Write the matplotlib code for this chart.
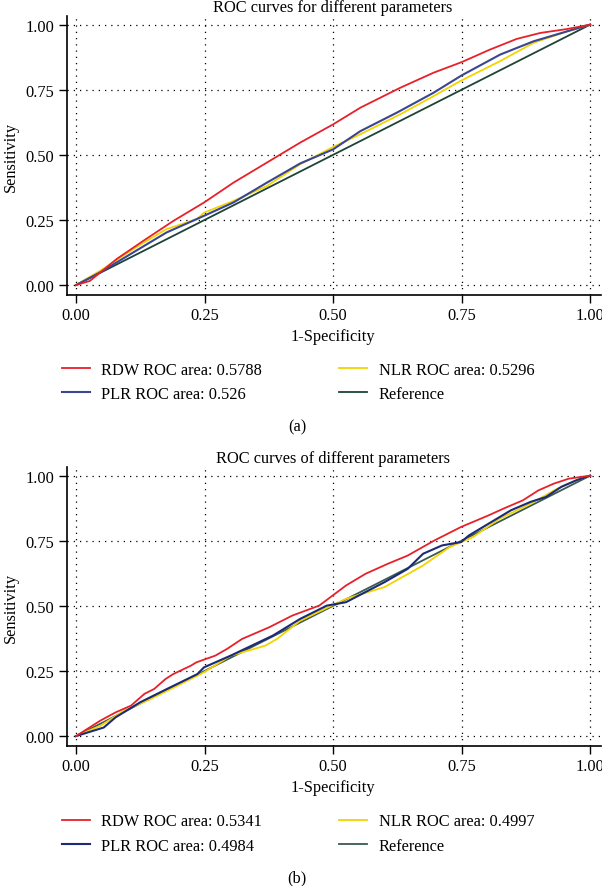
import matplotlib
matplotlib.use("Agg")
import matplotlib.pyplot as plt
from matplotlib.lines import Line2D

plt.rcParams['font.family'] = ['Liberation Serif', 'DejaVu Serif']

# ---------------- data: panel (a) ----------------
a_rdw_x = [0, 0.027, 0.079, 0.131, 0.189, 0.249, 0.306, 0.371, 0.436, 0.50, 0.553, 0.630, 0.695, 0.750, 0.805, 0.857, 0.903, 0.955, 1]
a_rdw_y = [0, 0.016, 0.100, 0.170, 0.246, 0.317, 0.393, 0.470, 0.547, 0.617, 0.681, 0.757, 0.815, 0.856, 0.904, 0.945, 0.968, 0.983, 1]
a_plr_x = [0, 0.047, 0.111, 0.176, 0.249, 0.306, 0.371, 0.436, 0.50, 0.553, 0.624, 0.695, 0.750, 0.825, 0.890, 0.955, 1]
a_plr_y = [0, 0.049, 0.125, 0.202, 0.266, 0.317, 0.393, 0.467, 0.521, 0.591, 0.662, 0.738, 0.805, 0.885, 0.936, 0.974, 1]
a_nlr_x = [0, 0.047, 0.111, 0.176, 0.235, 0.249, 0.306, 0.371, 0.436, 0.50, 0.553, 0.630, 0.695, 0.747, 0.825, 0.890, 0.955, 1]
a_nlr_y = [0, 0.055, 0.138, 0.215, 0.253, 0.278, 0.323, 0.380, 0.464, 0.530, 0.579, 0.655, 0.725, 0.783, 0.860, 0.930, 0.974, 1]
a_labels = ["RDW ROC area: 0.5788", "PLR ROC area: 0.526", "NLR ROC area: 0.5296", "Reference"]

# ---------------- data: panel (b) ----------------
b_rdw_x = [0, 0.047, 0.077, 0.107, 0.133, 0.152, 0.174, 0.189, 0.223, 0.234, 0.271, 0.294, 0.323, 0.376, 0.421, 0.473,
           0.525, 0.563, 0.607, 0.645, 0.697, 0.749, 0.802, 0.831, 0.869, 0.899, 0.929, 0.958, 1]
b_rdw_y = [0, 0.059, 0.091, 0.117, 0.162, 0.181, 0.219, 0.238, 0.270, 0.283, 0.309, 0.335, 0.373, 0.418, 0.463, 0.501,
           0.578, 0.623, 0.662, 0.693, 0.751, 0.803, 0.847, 0.873, 0.905, 0.943, 0.969, 0.988, 1]
b_plr_x = [0, 0.054, 0.077, 0.125, 0.177, 0.236, 0.249, 0.301, 0.383, 0.436, 0.488, 0.525, 0.563, 0.600, 0.645,
           0.675, 0.712, 0.749, 0.764, 0.802, 0.846, 0.884, 0.914, 0.944, 0.973, 1]
b_plr_y = [0, 0.033, 0.072, 0.130, 0.181, 0.238, 0.264, 0.309, 0.386, 0.450, 0.501, 0.514, 0.553, 0.591, 0.642,
           0.700, 0.732, 0.745, 0.770, 0.815, 0.867, 0.899, 0.918, 0.957, 0.982, 1]
b_nlr_x = [0, 0.048, 0.093, 0.145, 0.197, 0.236, 0.249, 0.301, 0.368, 0.391, 0.436, 0.525, 0.600, 0.675, 0.727,
           0.772, 0.824, 0.884, 0.936, 0.973, 1]
b_nlr_y = [0, 0.040, 0.097, 0.142, 0.193, 0.232, 0.245, 0.309, 0.347, 0.373, 0.443, 0.527, 0.572, 0.655, 0.726,
           0.764, 0.835, 0.892, 0.950, 0.982, 1]
b_labels = ["RDW ROC area: 0.5341", "PLR ROC area: 0.4984", "NLR ROC area: 0.4997", "Reference"]

ref_x = [0, 1]
ref_y = [0, 1]
ticks = [0.0, 0.25, 0.5, 0.75, 1.0]
tick_labels = ["0.00", "0.25", "0.50", "0.75", "1.00"]

C_RDW = "#e8202a"
C_PLR = "#1c2a7a"
C_NLR = "#f2d400"
C_REF = "#1d4436"

W, H = 602, 887
FS = 11.8
fig = plt.figure(figsize=(W / 100, H / 100), dpi=100)


def panel(top_px, bottom_px, title, data, labels, ref_color, plr_color, tag, leg_y, tag_y):
    left_px, right_px = 67, 601
    hgt = bottom_px - top_px
    ax = fig.add_axes([left_px / W, 1 - bottom_px / H, (right_px - left_px) / W, hgt / H])
    (rx, ry), (px, py), (nx, ny) = data
    ax.plot(ref_x, ref_y, color=ref_color, lw=1.3, zorder=3)
    ax.plot(nx, ny, color=C_NLR, lw=1.3, zorder=4)
    ax.plot(px, py, color=plr_color, lw=1.5, zorder=5)
    ax.plot(rx, ry, color=C_RDW, lw=1.3, zorder=6)
    ax.set_xlim(-0.0175, 1.021)
    ax.set_ylim(-0.038, 1.033)
    ax.set_xticks(ticks)
    ax.set_xticklabels(tick_labels)
    ax.set_yticks(ticks)
    ax.set_yticklabels(tick_labels)
    ax.tick_params(direction='out', length=6, width=1, labelsize=FS, pad=3, colors='black')
    for s in ['top', 'right']:
        ax.spines[s].set_visible(False)
    for s in ['left', 'bottom']:
        ax.spines[s].set_linewidth(1.2)
    ax.grid(True, color='black', linestyle=(0, (1, 4)), linewidth=0.9)
    ax.set_axisbelow(True)
    ax.set_xlabel("1-Specificity", fontsize=FS)
    ax.set_ylabel("Sensitivity", fontsize=FS)
    ax.xaxis.set_label_coords(0.498, -41 / hgt)
    ax.xaxis.label.set_verticalalignment('center')
    ax.yaxis.set_label_coords((11 - left_px) / (right_px - left_px), 0.5)
    ax.yaxis.label.set_verticalalignment('center')
    ax.text(0.498, 1 + 9 / hgt, title, transform=ax.transAxes,
            ha='center', va='center', fontsize=FS)
    handles = [Line2D([], [], color=C_RDW, lw=1.3), Line2D([], [], color=plr_color, lw=1.5),
               Line2D([], [], color=C_NLR, lw=1.3), Line2D([], [], color=ref_color, lw=1.3)]
    fig.legend(handles, labels, ncol=2, loc='center left', bbox_to_anchor=(62 / W, 1 - leg_y / H),
               frameon=False, fontsize=FS, handlelength=1.7, handletextpad=0.7, columnspacing=4.7,
               labelspacing=0.5, borderpad=0, borderaxespad=0)
    fig.text(297 / W, 1 - tag_y / H, tag, ha='center', va='center', fontsize=FS)
    return ax


panel(17, 296, "ROC curves for different parameters",
      [(a_rdw_x, a_rdw_y), (a_plr_x, a_plr_y), (a_nlr_x, a_nlr_y)], a_labels, C_REF, "#3a468f", "(a)", 383, 427)
panel(468, 747, "ROC curves of different parameters",
      [(b_rdw_x, b_rdw_y), (b_plr_x, b_plr_y), (b_nlr_x, b_nlr_y)], b_labels, "#3b5a4e", C_PLR, "(b)", 834.5, 878)

fig.savefig("out.png", dpi=100)
